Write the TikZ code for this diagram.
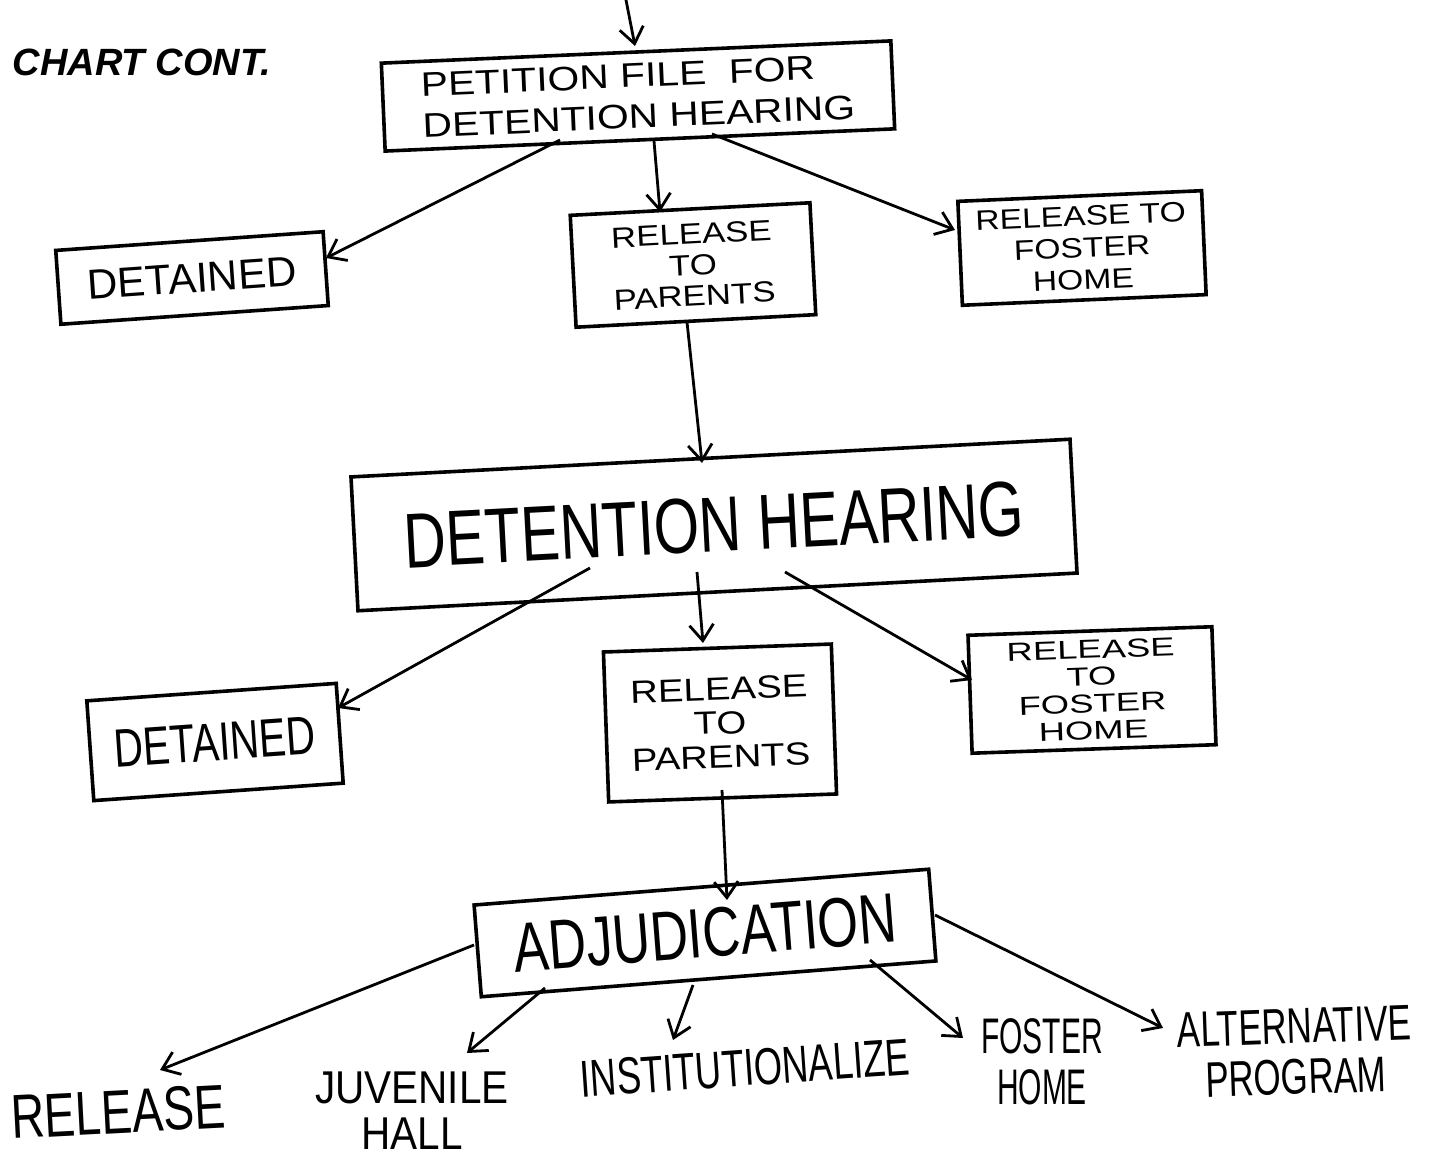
\documentclass[tikz,border=0pt]{standalone}
\usepackage{fontspec}
\setmainfont{Liberation Sans}
\newfontfamily\hand{Liberation Sans}
\newfontfamily\handX{Liberation Sans}[FakeStretch=1.4]
\newfontfamily\handW{Liberation Sans}[FakeStretch=1.2]
\newfontfamily\handM{Liberation Sans}[FakeStretch=0.88]
\newfontfamily\handN{Liberation Sans}[FakeStretch=0.75]
\newfontfamily\handD{Liberation Sans}[FakeStretch=0.7]
\newfontfamily\handC{Liberation Sans}[FakeStretch=0.6]
\usetikzlibrary{arrows.meta,calc}
\newcommand\fsz[2]{\fontsize{#1}{#2}\selectfont}
\begin{document}
\begin{tikzpicture}[x=0.5pt,y=-0.5pt,
  box/.style={draw,line width=1.8pt,inner sep=0pt,align=center},
  lbl/.style={inner sep=0pt,align=center},
  arr/.style={line width=1.4pt,-{Straight Barb[length=8pt,width=12pt,line width=1.4pt]}}]
\useasboundingbox[fill=white] (0,0) rectangle (1432,1159);

\node[lbl,font={\hand\bfseries\itshape\fsz{19}{22}}] (title) at (142,62) {CHART CONT.};

\node[box,align=left,minimum width=255pt,minimum height=44pt,rotate=2.5,font={\handW\fsz{17}{20.5}}] (P) at (638,96)
  {PETITION FILE \ FOR\\DETENTION HEARING};
\node[box,minimum width=134pt,minimum height=37pt,rotate=4,font={\hand\fsz{21}{24}}] (D1) at (192,278)
  {DETAINED};
\node[box,minimum width=120pt,minimum height=56pt,rotate=3,font={\handW\fsz{14.5}{15.5}}] (R1) at (693,265)
  {RELEASE\\TO\\PARENTS};
\node[box,minimum width=122pt,minimum height=52pt,rotate=2.5,font={\handW\fsz{14}{16}}] (F1) at (1082,248)
  {RELEASE TO\\FOSTER\\HOME};
\node[box,minimum width=360pt,minimum height=67pt,rotate=3,font={\handN\fsz{39}{40}}] (DH) at (714,525)
  {DETENTION HEARING};
\node[box,minimum width=125pt,minimum height=50pt,rotate=4,font={\handN\fsz{27}{28}}] (D2) at (215,742)
  {DETAINED};
\node[box,minimum width=114pt,minimum height=75pt,rotate=2,font={\handW\fsz{16}{17}}] (R2) at (720,723)
  {RELEASE\\TO\\PARENTS};
\node[box,minimum width=122pt,minimum height=59pt,rotate=2,font={\handX\fsz{13}{13.5}}] (F2) at (1092,690)
  {RELEASE\\TO\\FOSTER\\HOME};
\node[box,minimum width=228pt,minimum height=46pt,rotate=4.5,font={\handN\fsz{35}{36}}] (ADJ) at (705,933)
  {ADJUDICATION};

\node[lbl,rotate=3,font={\handN\fsz{31}{32}}] (rel) at (118,1112) {RELEASE};
\node[lbl,font={\handM\fsz{23}{23}}] (jh) at (412,1111) {JUVENILE\\HALL};
\node[lbl,rotate=4,font={\handD\fsz{26}{26}}] (inst) at (745,1068) {INSTITUTIONALIZE};
\node[lbl,font={\handC\fsz{25}{25.5}}] (fos) at (1042,1062) {FOSTER\\HOME};
\node[lbl,rotate=2,font={\handD\fsz{25}{25.5}}] (alt) at (1295,1052) {ALTERNATIVE\\PROGRAM};

\coordinate (in) at (626,0);
\draw[arr] (in) -- ($(P.center)+(-3,-50)$);
\draw[arr] ($(P.center)+(-78,44)$) -- ($(D1.center)+(134,-20)$);
\draw[arr] ($(P.center)+(16,45)$) -- ($(R1.center)+(-33,-53)$);
\draw[arr] ($(P.center)+(74,38)$) -- ($(F1.center)+(-127,-18)$);
\draw[arr] ($(R1.center)+(-6,57)$) -- ($(DH.center)+(-12,-62)$);
\draw[arr] ($(DH.center)+(-124,43)$) -- ($(D2.center)+(123,-34)$);
\draw[arr] ($(DH.center)+(-17,47)$) -- ($(R2.center)+(-17,-80)$);
\draw[arr] ($(DH.center)+(71,47)$) -- ($(F2.center)+(-120,-10)$);
\draw[arr] ($(R2.center)+(2,67)$) -- ($(ADJ.center)+(22,-33)$);
\draw[arr] ($(ADJ.center)+(-231,12)$) -- ($(rel.center)+(42,-42)$);
\draw[arr] ($(ADJ.center)+(-160,55)$) -- ($(jh.center)+(55,-58)$);
\draw[arr] ($(ADJ.center)+(-12,52)$) -- ($(inst.center)+(-72,-28)$);
\draw[arr] ($(ADJ.center)+(165,27)$) -- ($(fos.center)+(-79,-24)$);
\draw[arr] ($(ADJ.center)+(230,-18)$) -- ($(alt.center)+(-132,-24)$);
\end{tikzpicture}
\end{document}
